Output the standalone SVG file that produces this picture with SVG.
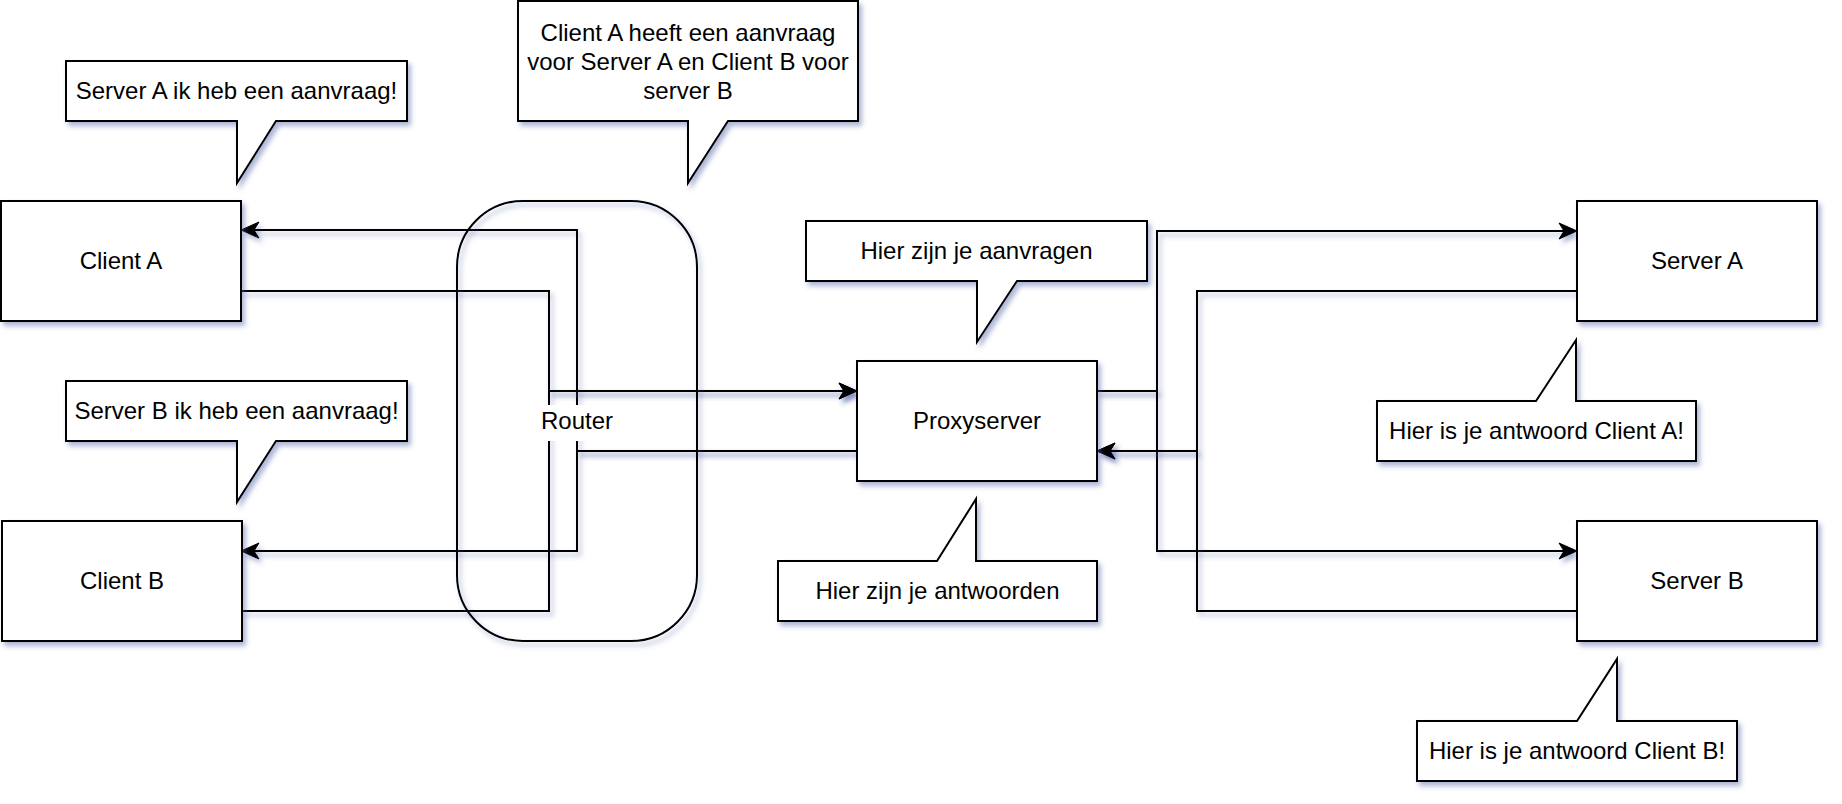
<svg xmlns="http://www.w3.org/2000/svg" width="1842" height="804" viewBox="0 0 1842 804">
<defs>
<filter id="sh" x="-10%" y="-10%" width="130%" height="130%">
<feDropShadow dx="3" dy="4" stdDeviation="2.5" flood-color="#4a5aa0" flood-opacity="0.45"/>
</filter>
<marker id="arr" viewBox="-20 -10 22 20" refX="-13" refY="0" markerWidth="22" markerHeight="20" markerUnits="userSpaceOnUse" orient="auto">
<path d="M0,0 L-18,-8 L-13,0 L-18,8 Z" fill="#000" stroke="#000" stroke-width="1"/>
</marker>
</defs>
<style>
.box{fill:#fff;stroke:#000;stroke-width:2;filter:url(#sh)}
.edge{fill:none;stroke:#000;stroke-width:2;filter:url(#sh)}
.t{font-family:"Liberation Sans",Arial,sans-serif;font-size:24px;fill:#000;text-anchor:middle}
</style>
<rect width="1842" height="804" fill="#fff"/>
<g id="connectors">
<path class="edge" d="M857,451 H577 V230 H254" marker-end="url(#arr)"/>
<path class="edge" d="M857,451 H577 V551 H254" marker-end="url(#arr)"/>
<path class="edge" d="M241,291 H549 V391 H844" marker-end="url(#arr)"/>
<path class="edge" d="M242,611 H549 V391 H844" marker-end="url(#arr)"/>
<path class="edge" d="M1097,391 H1157 V231 H1564" marker-end="url(#arr)"/>
<path class="edge" d="M1097,391 H1157 V551 H1564" marker-end="url(#arr)"/>
<path class="edge" d="M1577,291 H1197 V451 H1110" marker-end="url(#arr)"/>
<path class="edge" d="M1577,611 H1197 V451 H1110" marker-end="url(#arr)"/>
</g>
<g id="router">
<rect x="457" y="201" width="240" height="440" rx="66" ry="66" fill="none" stroke="#000" stroke-width="2" filter="url(#sh)"/>
<rect x="541" y="405" width="72" height="36" fill="#fff"/>
<text class="t" x="577" y="429">Router</text>
</g>
<g id="clientA">
<rect class="box" x="1" y="201" width="240" height="120"/>
<text class="t" x="121" y="269">Client A</text>
</g>
<g id="clientB">
<rect class="box" x="2" y="521" width="240" height="120"/>
<text class="t" x="122" y="589">Client B</text>
</g>
<g id="proxy">
<rect class="box" x="857" y="361" width="240" height="120"/>
<text class="t" x="977" y="429">Proxyserver</text>
</g>
<g id="serverA">
<rect class="box" x="1577" y="201" width="240" height="120"/>
<text class="t" x="1697" y="269">Server A</text>
</g>
<g id="serverB">
<rect class="box" x="1577" y="521" width="240" height="120"/>
<text class="t" x="1697" y="589">Server B</text>
</g>
<g id="callout-serverA">
<path class="box" d="M66,61 H407 V121 H276 L237,183 V121 H66 Z"/>
<text class="t" x="236.5" y="99">Server A ik heb een aanvraag!</text>
</g>
<g id="callout-serverB">
<path class="box" d="M66,381 H407 V441 H276 L237,502 V441 H66 Z"/>
<text class="t" x="236.5" y="419">Server B ik heb een aanvraag!</text>
</g>
<g id="callout-router">
<path class="box" d="M518,1 H858 V121 H728 L688,183 V121 H518 Z"/>
<text class="t" x="688" y="41">Client A heeft een aanvraag</text>
<text class="t" x="688" y="69.8">voor Server A en Client B voor</text>
<text class="t" x="688" y="98.6">server B</text>
</g>
<g id="callout-aanvragen">
<path class="box" d="M806,221 H1147 V281 H1017 L977,342 V281 H806 Z"/>
<text class="t" x="976.5" y="259">Hier zijn je aanvragen</text>
</g>
<g id="callout-antwoorden">
<path class="box" d="M778,561 H937 L976,499 V561 H1097 V621 H778 Z"/>
<text class="t" x="937.5" y="599">Hier zijn je antwoorden</text>
</g>
<g id="callout-antwoordA">
<path class="box" d="M1377,401 H1536 L1576,340 V401 H1696 V461 H1377 Z"/>
<text class="t" x="1536.5" y="439">Hier is je antwoord Client A!</text>
</g>
<g id="callout-antwoordB">
<path class="box" d="M1417,721 H1577 L1617,659 V721 H1737 V781 H1417 Z"/>
<text class="t" x="1577" y="759">Hier is je antwoord Client B!</text>
</g>
</svg>
